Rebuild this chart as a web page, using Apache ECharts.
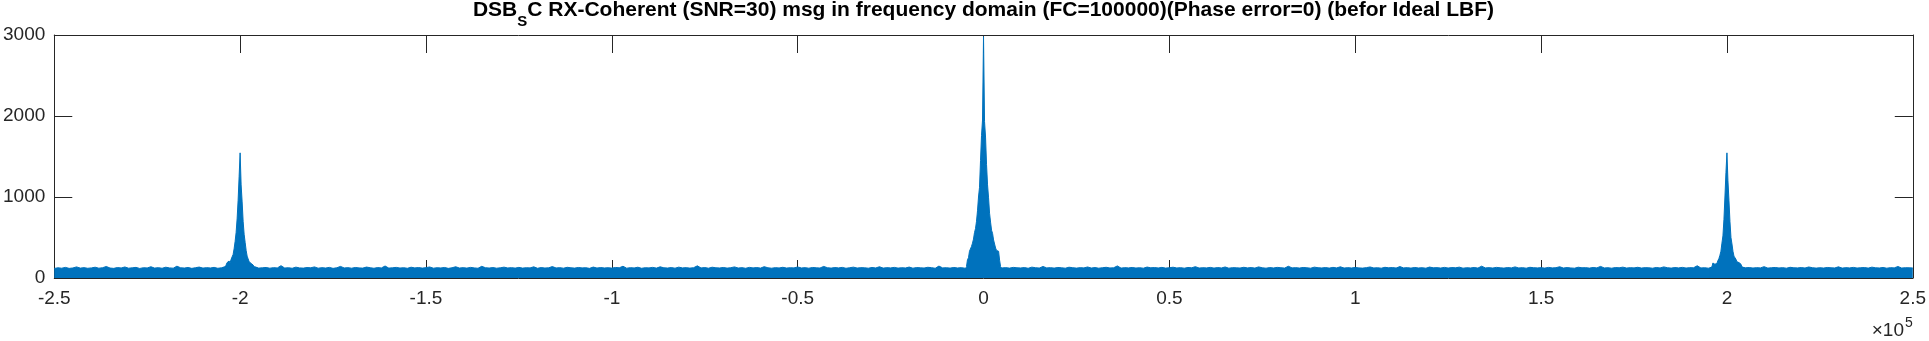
<!DOCTYPE html>
<html><head><meta charset="utf-8">
<script src="https://cdn.jsdelivr.net/npm/echarts@6/dist/echarts.min.js"></script>
<style>html,body{margin:0;padding:0;background:#fff}#c{width:1929px;height:341px}</style>
</head><body><div id="c"></div>
<script>
// ---- data ----
const titleMain = 'DSB';
const titleSub = 'S';
const titleRest = 'C RX-Coherent (SNR=30) msg in frequency domain (FC=100000)(Phase error=0) (befor Ideal LBF)';
const xRange = [-250000, 250000];
const xTickStep = 50000;
const xExponentBase = '\u00d710';
const xExponent = '5';
const yRange = [0, 3000];
const yTickStep = 1000;

// broadband noise floor, one value per 1000 Hz from -250 kHz to +250 kHz
const noiseStartHz = -250000;
const noiseStepHz = 1000;
const noiseMag = [
118,126,121,131,119,124,137,122,128,120,125,133,121,127,142,123,119,129,124,136,121,126,131,118,127,
124,139,122,128,120,133,125,121,146,126,123,130,119,127,135,122,128,124,131,120,126,141,123,129,121,
132,125,119,127,138,122,126,130,121,128,124,152,123,127,120,134,125,122,129,126,137,121,128,123,131,
119,126,143,124,128,121,130,125,122,135,127,120,129,124,148,122,126,131,123,127,120,133,125,129,122,
128,136,121,127,124,130,119,126,139,123,128,122,131,125,120,144,127,123,129,121,126,134,124,128,122,
131,122,127,125,138,120,129,123,126,141,124,128,121,132,126,122,130,125,127,119,135,123,129,124,127,
122,130,126,145,121,128,124,133,120,127,125,131,122,138,126,123,129,121,134,125,128,122,127,150,124,
129,121,133,126,124,130,122,127,137,123,128,120,131,125,129,122,140,126,121,128,124,132,123,127,125,
136,124,128,121,130,126,123,143,127,122,129,125,131,120,127,134,123,128,126,121,130,124,139,122,128,
125,131,122,127,124,135,121,129,126,123,132,128,120,147,125,127,122,130,124,128,121,136,126,123,129,
124,130,127,121,138,125,128,122,131,126,124,129,120,134,127,123,142,125,128,122,130,126,121,133,127,
122,128,125,136,123,129,121,127,132,124,126,149,122,128,125,130,123,127,121,135,126,129,124,131,122,
127,133,124,128,121,130,126,140,123,127,125,131,122,129,124,136,121,128,126,123,132,125,129,122,137,
126,121,129,124,131,127,122,145,125,128,123,130,126,121,134,127,124,129,122,131,125,138,123,128,124,
130,125,122,128,136,124,127,121,132,126,129,123,141,125,128,122,130,124,127,121,135,126,128,123,131,
123,129,126,134,121,127,124,130,122,146,125,128,123,131,126,122,129,125,137,124,128,121,132,127,125,
128,122,131,125,127,139,123,129,124,121,133,126,128,122,130,125,143,124,127,121,129,126,134,123,128,
125,132,123,128,126,121,130,124,137,127,122,129,125,131,123,128,126,151,124,127,121,133,126,129,123,
131,124,127,122,135,126,129,123,128,125,140,122,127,130,124,128,121,132,126,125,129,123,136,127,122,
127,123,130,126,124,138,122,128,125,131,123,127,129,122,134,126,124,130,121,128,125,142,123,127,126,
124
];

// spectral lines: offsets (Hz) around each line centre and their magnitudes
const skirtOffsetsHz = [-4590,-4320,-4050,-3780,-3510,-3240,-2970,-2700,-2430,-2160,-1890,-1620,-1350,-1080,-810,-540,-270,
  0,270,540,810,1080,1350,1620,1890,2160,2430,2700,2970,3240,3510,3780,4050,4320,4590];
const peakCentersHz = [-200000, 0, 200000];
const leftPeakMag = [125,125,128,135,190,175,210,185,230,250,290,360,450,560,730,960,1250,
  1545,1150,940,700,540,440,340,270,235,200,215,180,195,160,135,128,125,125];
const centerPeakMag = [140,225,250,330,350,390,430,480,560,610,700,830,1000,1120,1450,1760,1950,
  2980,1930,1740,1400,1150,990,800,690,590,550,470,420,370,340,320,330,220,140];
const rightPeakMag = [125,128,135,185,200,170,190,180,215,240,280,330,430,520,720,1000,1300,
  1545,1200,960,700,500,420,330,270,250,230,200,215,190,200,170,135,128,125];

// ---- chart ----
const blue = '#0072BD';
const ink = '#262626';
const font = '"Liberation Sans", Arial, Helvetica, sans-serif';
const chart = echarts.init(document.getElementById('c'), null, {renderer: 'canvas'});

const noiseData = noiseMag.map((v, i) => [noiseStartHz + i * noiseStepHz, v]);
const peakSets = [leftPeakMag, centerPeakMag, rightPeakMag];

function lineSeries(data) {
  return {
    type: 'line', data: data, symbol: 'none', showSymbol: false,
    lineStyle: {color: blue, width: 1}, areaStyle: {color: blue, opacity: 1},
    itemStyle: {color: blue}, silent: true, animation: false, z: 3
  };
}
const series = [lineSeries(noiseData)].concat(peakSets.map((mags, k) =>
  lineSeries(mags.map((v, i) => [peakCentersHz[k] + skirtOffsetsHz[i], v]))));

function xAx(pos, labels) {
  return {
    type: 'value', position: pos, min: xRange[0], max: xRange[1], interval: xTickStep,
    axisLine: {show: true, onZero: false, lineStyle: {color: ink, width: 1}},
    axisTick: {show: true, inside: true, length: 18, lineStyle: {color: ink, width: 1}},
    axisLabel: {show: labels, color: ink, fontSize: 19, fontFamily: font, margin: 11,
      formatter: v => String(Math.round(v / 1e4) / 10)},
    splitLine: {show: false}
  };
}
function yAx(pos, labels) {
  return {
    type: 'value', position: pos, min: yRange[0], max: yRange[1], interval: yTickStep,
    axisLine: {show: true, onZero: false, lineStyle: {color: ink, width: 1}},
    axisTick: {show: true, inside: true, length: 18, lineStyle: {color: ink, width: 1}},
    axisLabel: {show: labels, color: ink, fontSize: 19, fontFamily: font, margin: 9,
      formatter: v => String(Math.round(v))},
    splitLine: {show: false}
  };
}

chart.setOption({
  animation: false,
  backgroundColor: '#fff',
  grid: {left: 54, right: 16, top: 35, bottom: 63, containLabel: false},
  xAxis: [xAx('bottom', true), xAx('top', false)],
  yAxis: [yAx('left', true), yAx('right', false)],
  series: series,
  graphic: [
    {type: 'text', x: 983.5, y: 0, silent: true, style: {
      text: '{a|' + titleMain + '}{s|' + titleSub + '}{a|' + titleRest + '}',
      align: 'center', verticalAlign: 'top', fill: '#000',
      rich: {
        a: {fontSize: 21, fontWeight: 'bold', fontFamily: font, fill: '#000', lineHeight: 24, verticalAlign: 'top'},
        s: {fontSize: 15, fontWeight: 'bold', fontFamily: font, fill: '#000', lineHeight: 15, padding: [14, 0, 0, 0], verticalAlign: 'top'}
      }
    }},
    {type: 'text', x: 1904, y: 331, silent: true, style: {
      text: xExponentBase, align: 'right', verticalAlign: 'middle', fill: ink, fontSize: 19, fontFamily: font}},
    {type: 'text', x: 1905, y: 323, silent: true, style: {
      text: xExponent, align: 'left', verticalAlign: 'middle', fill: ink, fontSize: 14, fontFamily: font}}
  ]
});
</script>
</body></html>
